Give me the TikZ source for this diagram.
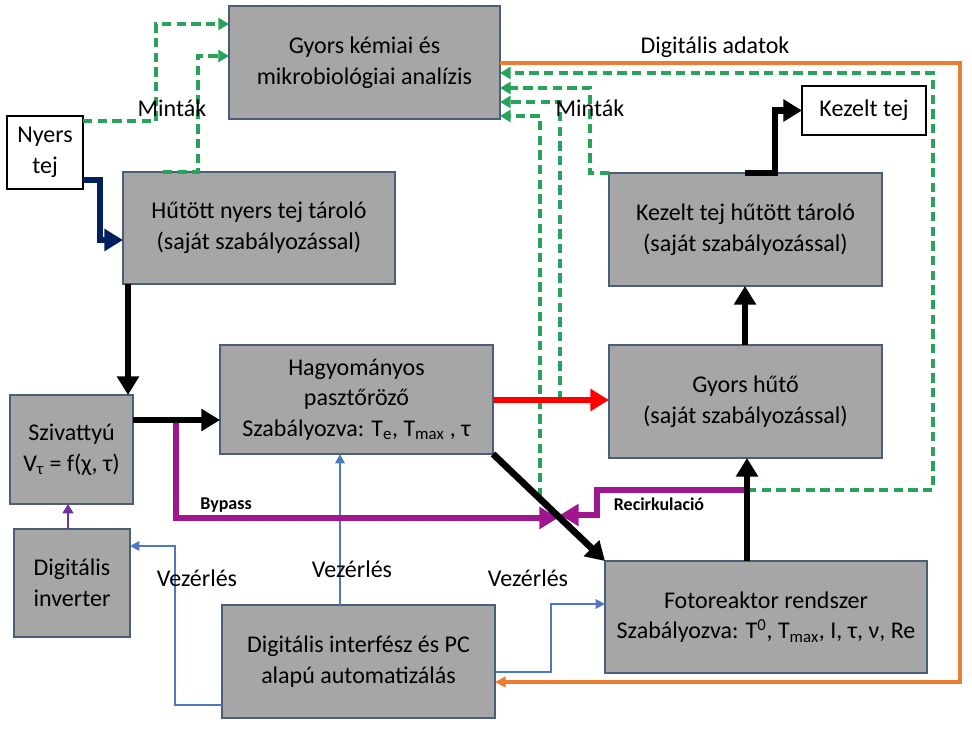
\documentclass[tikz,border=0pt]{standalone}
\usepackage{fontspec}
\setmainfont{Carlito}
\usetikzlibrary{arrows.meta}
\usetikzlibrary{shapes}
\newlength\pxl
\setlength\pxl{0.75pt}
\definecolor{boxgray}{HTML}{A6A6A6}
\definecolor{boxline}{HTML}{4A5E7A}
\definecolor{rawnavy}{HTML}{002060}
\definecolor{bypassmag}{HTML}{A0168E}
\definecolor{samplegreen}{HTML}{27A35A}
\definecolor{dataorange}{HTML}{ED7D31}
\definecolor{ctrlblue}{HTML}{4F78C4}
\definecolor{invpurple}{HTML}{7030A0}
\tikzset{
  unitbox/.style={draw=boxline, line width=1pt, fill=boxgray, inner sep=0pt, outer sep=0pt,
    align=center, font=\fontsize{18}{23}\selectfont},
  endbox/.style={draw=black, line width=1pt, fill=white, inner sep=0pt, outer sep=0pt,
    align=center, font=\fontsize{18}{23}\selectfont},
  flow/.style={line width=5pt, -{Triangle[length=14pt,width=16pt]}},
  sample/.style={samplegreen, line width=2.8pt, dash pattern=on 7pt off 4pt,
    -{Triangle[length=8pt,width=9pt]}},
  control/.style={ctrlblue, line width=1.8pt, -{Triangle[length=7pt,width=7pt]}},
  lbl/.style={font=\fontsize{18}{20}\selectfont, inner sep=1pt},
  smalllbl/.style={font=\fontsize{13.5}{15}\bfseries\selectfont, inner sep=1pt}
}
\begin{document}
\begin{tikzpicture}[x=0.75pt,y=-0.75pt]
  \useasboundingbox (0,0) rectangle (972,731);
  % boxes
  \node[unitbox, minimum width=271\pxl, minimum height=113\pxl] (analizis) at (364.5,62.5)
    {Gyors kémiai és\\mikrobiológiai analízis};
  \node[endbox, minimum width=76\pxl, minimum height=73\pxl] (nyers) at (45,152.5) {Nyers\\tej};
  \node[unitbox, minimum width=272\pxl, minimum height=112\pxl] (hutott) at (259,228)
    {Hűtött nyers tej tároló\\(saját szabályozással)};
  \node[endbox, minimum width=124\pxl, minimum height=49\pxl] (kezelt) at (864,110.5) {Kezelt tej};
  \node[unitbox, minimum width=273\pxl, minimum height=113\pxl] (ktarolo) at (745.5,229.5)
    {Kezelt tej hűtött tároló\\(saját szabályozással)};
  \node[unitbox, minimum width=273\pxl, minimum height=113\pxl] (huto) at (745.5,401.5)
    {Gyors hűtő\\(saját szabályozással)};
  \node[unitbox, minimum width=322\pxl, minimum height=112\pxl] (foto) at (766,617)
    {Fotoreaktor rendszer\\Szabályozva: T\textsuperscript{0}, T\textsubscript{max}, I, τ, ν, Re};
  \node[unitbox, minimum width=123\pxl, minimum height=109\pxl] (sziv) at (71.5,449.5)
    {Szivattyú\\V\textsubscript{τ} = f(χ, τ)};
  \node[unitbox, minimum width=273\pxl, minimum height=109\pxl] (pasztor) at (356.5,399.5)
    {Hagyományos\\pasztőröző\\Szabályozva: T\textsubscript{e}, T\textsubscript{max} , τ};
  \node[unitbox, minimum width=116\pxl, minimum height=108\pxl] (inverter) at (72,583)
    {Digitális\\inverter};
  \node[unitbox, minimum width=273\pxl, minimum height=113\pxl] (interfesz) at (358.5,661.5)
    {Digitális interfész és PC\\alapú automatizálás};

  % samples to the analysis
  \draw[sample] (nyers.east |- 0,121) -- (156,121) -- (156,24) -- (analizis.west |- 0,24);
  \draw[sample] (163,172) -- (198,172) -- (198,56) -- (analizis.west |- 0,56);
  \draw[sample] (747,490) -- (933,490) -- (933,73) -- (analizis.east |- 0,73);
  \draw[sample] (ktarolo.north west) -- (590,173) -- (590,88) -- (analizis.east |- 0,88);
  \draw[sample] (560,400) -- (560,102) -- (analizis.east |- 0,102);
  \draw[sample] (540,497) -- (540,116) -- (analizis.east |- 0,116);

  % data and control
  \draw[dataorange, line width=2.8pt, -{Triangle[length=8pt,width=8pt]}]
    (analizis.east |- 0,63) -- (960,63) -- (960,682) -- (interfesz.east |- 0,682);
  \draw[control] (interfesz.west |- 0,705) -- (175,705) -- (175,546) -- (inverter.east |- 0,546);
  \draw[control] (interfesz.north -| 340,0) -- (pasztor.south -| 340,0);
  \draw[control] (interfesz.east |- 0,672) -- (551,672) -- (551,604) -- (foto.west |- 0,604);
  \draw[invpurple, line width=2.2pt, -{Triangle[length=7pt,width=8pt]}]
    (inverter.north -| 68,0) -- (sziv.south -| 68,0);

  % bypass and recirculation
  \draw[bypassmag, line width=4.5pt, -{Triangle[length=14pt,width=16pt]}]
    (176,420) -- (176,518) -- (558,518);
  \draw[bypassmag, line width=4.5pt, -{Triangle[length=14pt,width=16pt]}]
    (747,490) -- (597,490) -- (597,515) -- (560,515);

  % milk flow
  \draw[flow, rawnavy] (nyers.east |- 0,180) -| (100,240) -- (hutott.west |- 0,240);
  \draw[flow] (hutott.south -| 128,0) -- (sziv.north -| 128,0);
  \draw[flow] (sziv.east |- 0,420) -- (pasztor.west |- 0,420);
  \draw[flow, red] (pasztor.east |- 0,400) -- (huto.west |- 0,400);
  \draw[flow] (pasztor.south east) -- (foto.north west);
  \draw[flow] (foto.north -| 747,0) -- (huto.south -| 747,0);
  \draw[flow] (huto.north -| 745,0) -- (ktarolo.south -| 745,0);
  \draw[flow] (745,173) -- (775,173) -- (775,110.5) -- (kezelt.west);

  % labels
  \node[lbl] (mintakL) at (172,108) {Minták};
  \node[lbl] (mintakR) at (590,108) {Minták};
  \node[lbl] (adatok) at (715,47) {Digitális adatok};
  \node[smalllbl] (bypass) at (226,505) {Bypass};
  \node[smalllbl] (recirk) at (659,504) {Recirkulació};
  \node[lbl] (vezL) at (197,578) {Vezérlés};
  \node[lbl] (vezM) at (352,569) {Vezérlés};
  \node[lbl] (vezR) at (528,578) {Vezérlés};
\end{tikzpicture}
\end{document}
